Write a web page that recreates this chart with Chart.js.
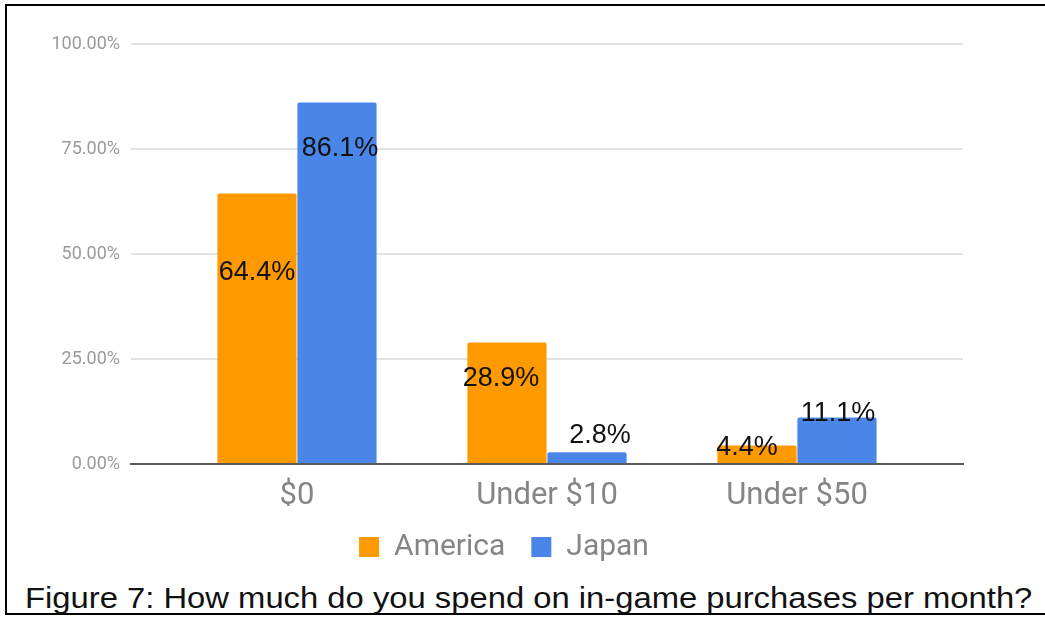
<!DOCTYPE html>
<html>
<head>
<meta charset="utf-8">
<script src="https://cdn.jsdelivr.net/npm/chart.js@4.4.1/dist/chart.umd.min.js"></script>
<style>
  html, body { margin: 0; padding: 0; background: #fff; }
  #frame {
    position: absolute; left: 5px; top: 4px; width: 1045px; height: 611px;
    border-top: 2px solid #000; border-left: 2px solid #000; border-bottom: 2px solid #000;
    box-sizing: border-box;
  }
  #chart { position: absolute; left: 0; top: 0; width: 1045px; height: 575px; }
  #caption {
    position: absolute; left: 25px; top: 582px; white-space: nowrap;
    font-family: "Liberation Sans", Arial, sans-serif; font-size: 29px; color: #111;
    transform: scaleX(1.13); transform-origin: left top;
  }
</style>
</head>
<body>
<div id="frame"></div>
<div id="chart"><canvas id="myChart" width="1045" height="575"></canvas></div>
<div id="caption">Figure 7: How much do you spend on in-game purchases per month?</div>
<script>
const categories = ['$0', 'Under $10', 'Under $50']
const america = [64.4, 28.9, 4.4]
const japan = [86.1, 2.8, 11.1]
const yTicks = [0, 25, 50, 75, 100]

// nudges for the value labels, [dx, dy] from the bar top
const americaLabelShift = [[0, 79], [-6, 36], [-10, 2]]
const japanLabelShift = [[3, 46], [13, -17], [1, -4]]

const valueLabels = {
  id: 'valueLabels',
  afterDatasetsDraw(chart) {
    const ctx = chart.ctx
    const shifts = [americaLabelShift, japanLabelShift]
    ctx.save()
    ctx.font = '27px "Liberation Sans", Arial, sans-serif'
    ctx.fillStyle = '#111'
    ctx.textAlign = 'center'
    ctx.textBaseline = 'middle'
    chart.data.datasets.forEach((ds, di) => {
      chart.getDatasetMeta(di).data.forEach((bar, i) => {
        const [dx, dy] = shifts[di][i]
        ctx.fillText(ds.data[i].y.toFixed(1) + '%', bar.x + dx, bar.y + dy)
      })
    })
    ctx.restore()
  }
}

let ctx = document.getElementById('myChart').getContext('2d');
let myChart = new Chart(ctx, {
  type: 'bar',
  data: {
    datasets: [{
      label: 'America',
      data: america.map((v, i) => ({ x: i, y: v })),
      backgroundColor: '#ff9900',
      borderRadius: { topLeft: 2, topRight: 2 },
      borderSkipped: 'start'
    }, {
      label: 'Japan',
      data: japan.map((v, i) => ({ x: i, y: v })),
      backgroundColor: '#4a86e8',
      borderRadius: { topLeft: 2, topRight: 2 },
      borderSkipped: 'start'
    }]
  },
  options: {
    responsive: false,
    animation: false,
    categoryPercentage: 0.64,
    barPercentage: 0.99,
    layout: { padding: { left: 45, right: 82, top: 44, bottom: 3 } },
    scales: {
      x: {
        type: 'linear',
        offset: false,
        min: -0.664,
        max: 2.664,
        afterBuildTicks: (axis) => { axis.ticks = categories.map((c, i) => ({ value: i })) },
        afterFit: (axis) => { axis.height = 42 },
        grid: { display: false, offset: false },
        border: { color: '#5a5a5a', width: 2 },
        ticks: {
          callback: (v) => categories[v],
          color: '#858585',
          font: { family: 'Roboto', size: 31 },
          padding: 6,
          maxRotation: 0
        }
      },
      y: {
        min: 0,
        max: 100,
        afterBuildTicks: (axis) => { axis.ticks = yTicks.map(v => ({ value: v })) },
        afterFit: (axis) => { axis.width = 86 },
        grid: { color: '#e2e2e2', lineWidth: 2, drawTicks: false },
        border: { display: false },
        ticks: {
          callback: (v) => v.toFixed(2) + '%',
          color: '#9a9a9a',
          font: { family: 'Roboto', size: 18 },
          padding: 11
        }
      }
    },
    plugins: {
      legend: {
        position: 'bottom',
        labels: {
          boxWidth: 20,
          boxHeight: 20,
          padding: 26,
          color: '#858585',
          font: { family: 'Roboto', size: 30 }
        }
      },
      tooltip: { enabled: false }
    }
  },
  plugins: [valueLabels]
});
</script>
</body>
</html>
